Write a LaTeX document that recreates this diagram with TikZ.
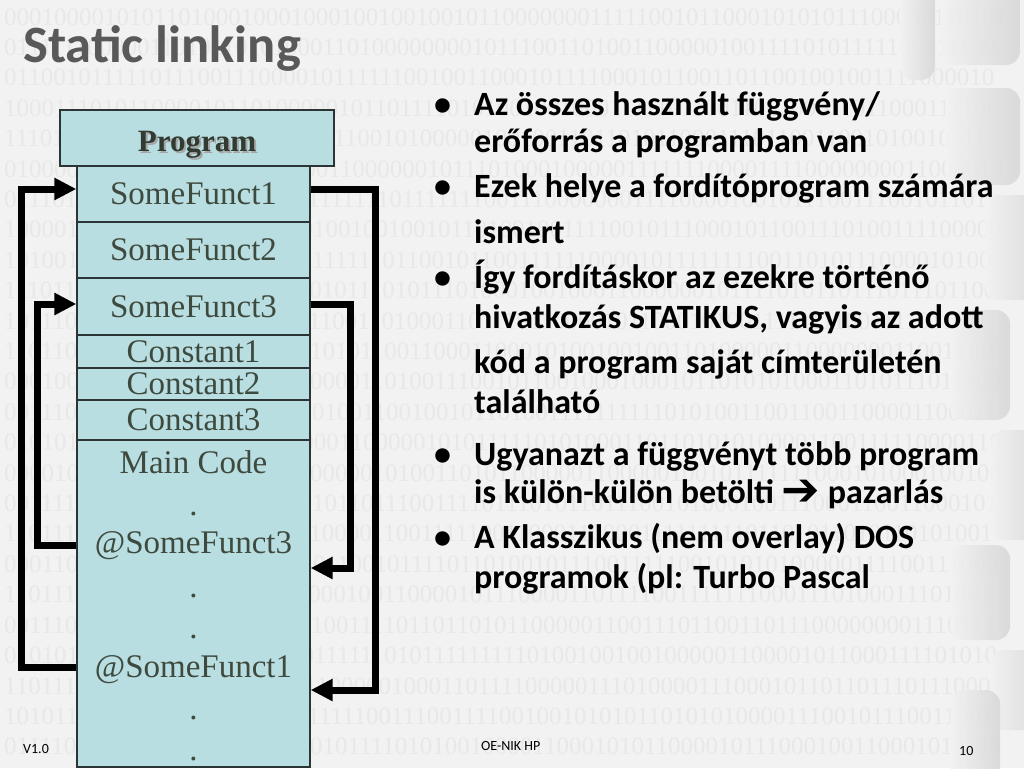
\documentclass[tikz,border=0pt]{standalone}
\usepackage{fontspec}
\setmainfont{Liberation Serif}
\newfontfamily\calib{Carlito}
\newfontfamily\djv{DejaVu Sans}
\usetikzlibrary{arrows.meta}
\definecolor{bgc}{HTML}{F2F2F2}
\definecolor{bincol}{HTML}{E8E8E8}
\definecolor{boxfill}{HTML}{B9DEE2}
\definecolor{boxline}{HTML}{2B3535}
\definecolor{serifc}{HTML}{3E4A3E}
\definecolor{titlec}{HTML}{595959}
\definecolor{decoc}{HTML}{D6D6D6}
\newcommand\serifsz{\fontsize{33}{40}\selectfont}
\newcommand\bulsz{\calib\bfseries\fontsize{34}{40}\selectfont}
\tikzset{
  cell/.style={draw=boxline, fill=boxfill, line width=1.3pt, minimum width=233pt,
    inner sep=0pt, text=serifc, font=\serifsz},
  mtext/.style={anchor=base, inner sep=0pt, text=serifc, font=\serifsz},
  link/.style={line width=7pt, line join=miter, -{Triangle[length=22pt,width=21pt]}},
  bline/.style={anchor=base west, inner sep=0pt, font=\bulsz, text=black},
  bin/.style={anchor=west, inner sep=0pt, text=bincol, font=\fontsize{25}{25}\selectfont},
  deco/.style={rounded corners=14pt, left color=bgc, right color=decoc},
  foot/.style={anchor=base west, inner sep=0pt, font=\calib\fontsize{14}{16}\selectfont, text=black}
}
\begin{document}
\begin{tikzpicture}[x=1pt,y=-1pt]
\useasboundingbox (0,0) rectangle (1024,768);
\fill[bgc] (0,0) rectangle (1024,768);
% binary background
\pgfmathsetseed{4242}
\foreach \r in {0,...,24}{
  \gdef\binstr{}
  \foreach \k in {1,...,81}{\pgfmathrandominteger{\bd}{0}{1}\xdef\binstr{\binstr\bd}}
  \node[bin] (bin\r) at (4,{17+30.4*\r}) {\binstr};
}
% decorative rounded shapes at the right edge
\shade[deco, opacity=0.85] (900,-20) rectangle (935,80);
\shade[deco, opacity=0.85] (940,-20) rectangle (1020,65);
\shade[deco, opacity=0.85] (945,88) rectangle (1020,185);
\shade[deco, opacity=0.85] (985,195) rectangle (1044,300);
\shade[deco, opacity=0.85] (950,310) rectangle (1010,420);
\shade[deco, opacity=0.85] (990,430) rectangle (1044,540);
\shade[deco, opacity=0.85] (950,545) rectangle (1010,640);
\shade[deco, opacity=0.85] (990,650) rectangle (1044,730);
\shade[deco, opacity=0.85] (950,690) rectangle (1000,790);
% title
\node[anchor=base west, inner sep=0pt, font=\calib\bfseries\fontsize{52.5}{60}\selectfont, text=titlec] (title) at (23,63) {Static linking};
% program block
\node[draw=boxline, fill=boxfill, line width=1.3pt, minimum width=274pt, minimum height=56pt, inner sep=0pt] (prog) at (197,138) {};
\node[anchor=base, inner sep=0pt, font=\bfseries\fontsize{31}{36}\selectfont, text=gray!70] (progsh) at (199,153) {Program};
\node[anchor=base, inner sep=0pt, font=\bfseries\fontsize{31}{36}\selectfont, text=serifc!80!black] (progt) at (197,151) {Program};
\node[cell, minimum height=56pt] (sf1) at (193.5,194) {SomeFunct1};
\node[cell, minimum height=56pt] (sf2) at (193.5,250) {SomeFunct2};
\node[cell, minimum height=57pt] (sf3) at (193.5,306.5) {SomeFunct3};
\node[cell, minimum height=33pt] (c1) at (193.5,351.5) {Constant1};
\node[cell, minimum height=32pt] (c2) at (193.5,384) {Constant2};
\node[cell, minimum height=40pt] (c3) at (193.5,420) {Constant3};
\node[cell, minimum height=327pt] (main) at (193.5,603.5) {};
\node[mtext] (mc) at (193.5,473) {Main Code};
\node[mtext] (d1) at (193.5,515) {.};
\node[mtext] (at3) at (193.5,553) {@SomeFunct3};
\node[mtext] (d2) at (193.5,597) {.};
\node[mtext] (d3) at (193.5,638) {.};
\node[mtext] (at1) at (193.5,677) {@SomeFunct1};
\node[mtext] (d4) at (193.5,719) {.};
\node[mtext] (d5) at (193.5,760) {.};
% connectors
\coordinate (A1) at (21,667); \coordinate (A2) at (21,189);
\coordinate (B1) at (37,545); \coordinate (B2) at (37,304);
\coordinate (C1) at (375,189); \coordinate (C2) at (375,690);
\coordinate (D1) at (350,304); \coordinate (D2) at (350,568);
\draw[link] (A1 -| main.west) -- (A1) -- (A2) -- (A2 -| sf1.west);
\draw[link] (B1 -| main.west) -- (B1) -- (B2) -- (B2 -| sf3.west);
\draw[link] (C1 -| sf1.east) -- (C1) -- (C2) -- (C2 -| main.east);
\draw[link] (D1 -| sf3.east) -- (D1) -- (D2) -- (D2 -| main.east);
% bullet text
\foreach \y/\n in {115/b1,197/b2,288/b3,465/b4,548/b5}{
  \node[bline] (\n) at (434,\y) {•};
}
\node[bline] (l1) at (474,115) {Az összes használt függvény/};
\node[bline] (l2) at (474,152) {erőforrás a programban van};
\node[bline] (l3) at (474,197) {Ezek helye a fordítóprogram számára};
\node[bline] (l4) at (474,243) {ismert};
\node[bline] (l5) at (474,288) {Így fordításkor az ezekre történő};
\node[bline] (l6) at (474,328) {hivatkozás STATIKUS, vagyis az adott};
\node[bline] (l7) at (474,373) {kód a program saját címterületén};
\node[bline] (l8) at (474,413) {található};
\node[bline] (l9) at (474,465) {Ugyanazt a függvényt több program};
\node[bline] (l10) at (474,503) {is külön-külön betölti {\djv\mdseries\fontsize{46}{46}\selectfont\raisebox{-2pt}{➔}} pazarlás};
\node[bline] (l11) at (474,548) {A Klasszikus (nem overlay) DOS};
\node[bline] (l12) at (474,588) {programok (pl: Turbo Pascal};
% footer
\node[foot] (ver) at (23,753) {V1.0};
\node[foot] (org) at (481,750) {OE-NIK HP};
\node[foot] (pg) at (959,755) {10};
\end{tikzpicture}
\end{document}
